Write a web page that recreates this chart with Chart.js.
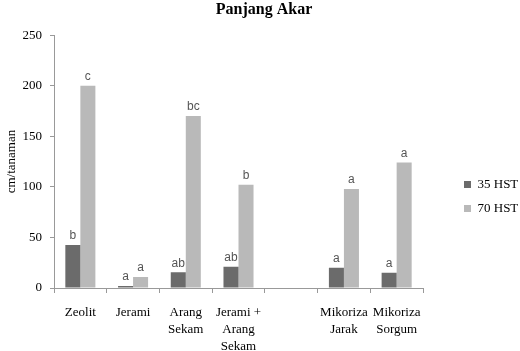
<!DOCTYPE html>
<html>
<head>
<meta charset="utf-8">
<script src="https://cdn.jsdelivr.net/npm/chart.js@4/dist/chart.umd.min.js"></script>
<style>
  body { margin: 0; background: #fff; }
  #wrap { width: 520px; height: 351px; }
</style>
</head>
<body>
<div id="wrap"><canvas id="chart" width="520" height="351"></canvas></div>
<script>
// data
const categories = ['Zeolit', 'Jerami', ['Arang', 'Sekam'], ['Jerami +', 'Arang', 'Sekam'], '', ['Mikoriza', 'Jarak'], ['Mikoriza', 'Sorgum']];
const hst35 = [42.5, 2, 15.5, 21, null, 20, 15];
const hst70 = [200, 11, 170, 102, null, 98, 124];
const letters35 = ['b', 'a', 'ab', 'ab', '', 'a', 'a'];
const letters70 = ['c', 'a', 'bc', 'b', '', 'a', 'a'];
const yTicks = [0, 50, 100, 150, 200, 250];

const serif = '"Liberation Serif", "Times New Roman", serif';

// small significance letters above the bars
const letterPlugin = {
    id: 'letters',
    afterDatasetsDraw(chart) {
        const ctx = chart.ctx;
        const sets = [letters35, letters70];
        ctx.save();
        ctx.font = '12px "Liberation Sans", Arial, sans-serif';
        ctx.fillStyle = '#555';
        ctx.textAlign = 'center';
        ctx.textBaseline = 'bottom';
        sets.forEach((letters, i) => {
            chart.getDatasetMeta(i).data.forEach((bar, j) => {
                if (!letters[j]) return;
                ctx.fillText(letters[j], bar.x, bar.y - 3);
            });
        });
        ctx.restore();
    }
};

// legend box wider (keeps plot right edge), then moved right and lower like the original
const legendPlace = {
    id: 'legendPlace',
    beforeLayout(chart) {
        const lg = chart.legend;
        if (lg && !lg._wide) {
            const fit = lg.fit;
            lg.fit = function () { fit.call(this); this.width = 97; };
            lg._wide = true;
        }
    },
    afterLayout(chart) {
        const lg = chart.legend;
        const w = lg.width, h = lg.height;
        lg.left = 453;
        lg.right = 453 + w;
        lg.top += 21;
        lg.bottom = lg.top + h;
        chart.titleBlock.left = 8;
    }
};

new Chart(document.getElementById('chart'), {
    type: 'bar',
    data: {
        labels: categories,
        datasets: [
            { label: '35 HST', data: hst35, backgroundColor: '#6b6b6b' },
            { label: '70 HST', data: hst70, backgroundColor: '#b9b9b9' }
        ]
    },
    options: {
        responsive: false,
        animation: false,
        devicePixelRatio: 1,
        layout: { padding: 0 },
        datasets: { bar: { categoryPercentage: 0.57, barPercentage: 1.0 } },
        scales: {
            x: {
                afterFit: (scale) => { scale.height = 63; },
                grid: { drawOnChartArea: false, color: '#999', tickLength: 5 },
                border: { color: '#999' },
                ticks: { color: '#000', font: { family: serif, size: 13, lineHeight: 1.3 }, padding: 11, maxRotation: 0, autoSkip: false }
            },
            y: {
                min: 0,
                max: 250,
                afterBuildTicks: (axis) => { axis.ticks = yTicks.map(v => ({ value: v })); },
                afterFit: (scale) => { scale.width = 54; },
                grid: { drawOnChartArea: false, color: '#999', tickLength: 4 },
                border: { color: '#999' },
                ticks: { color: '#000', font: { family: serif, size: 13 }, padding: 8 },
                title: { display: true, text: 'cm/tanaman', color: '#000', font: { family: serif, size: 13 }, padding: 4 }
            }
        },
        plugins: {
            title: { display: true, text: 'Panjang Akar', color: '#000', font: { family: serif, size: 16, weight: 'bold' }, padding: { top: 0, bottom: 16 } },
            legend: {
                position: 'right',
                labels: { color: '#000', font: { family: serif, size: 13 }, boxWidth: 7, boxHeight: 7, padding: 11 }
            },
            tooltip: { enabled: false }
        }
    },
    plugins: [letterPlugin, legendPlace]
});
</script>
</body>
</html>
